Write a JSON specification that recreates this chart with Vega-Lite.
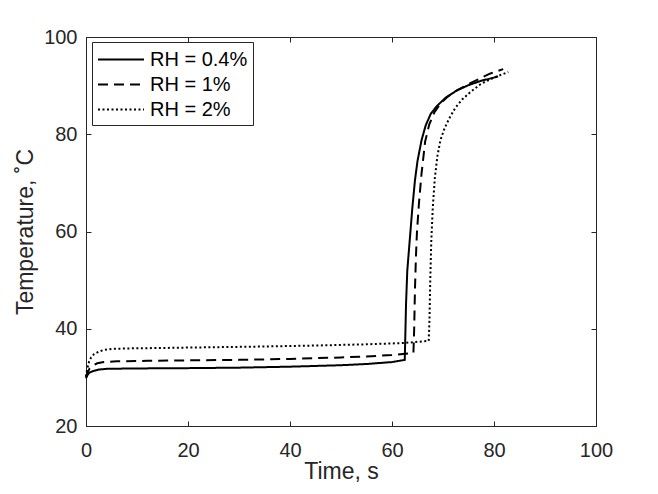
{
  "$schema": "https://vega.github.io/schema/vega-lite/v6.json",
  "width": 510,
  "height": 389,
  "autosize": "none",
  "padding": {"left": 86, "top": 37, "right": 62, "bottom": 68},
  "background": "white",
  "config": {
    "font": "Liberation Sans",
    "view": {"stroke": "#262626", "strokeWidth": 1},
    "axis": {
      "grid": false,
      "domainColor": "#262626",
      "tickColor": "#262626",
      "labelColor": "#262626",
      "titleColor": "#262626",
      "labelFont": "Liberation Sans",
      "titleFont": "Liberation Sans",
      "labelFontSize": 20,
      "titleFontSize": 23,
      "titleFontWeight": "normal",
      "labelFlush": false,
      "tickSize": -5
    }
  },
  "data": {
    "values": [
      {"series": "RH = 0.4%", "t": 0, "T": 29.8},
      {"series": "RH = 0.4%", "t": 0.3, "T": 30.5},
      {"series": "RH = 0.4%", "t": 0.7, "T": 31.0},
      {"series": "RH = 0.4%", "t": 1.4, "T": 31.3},
      {"series": "RH = 0.4%", "t": 2.5, "T": 31.6},
      {"series": "RH = 0.4%", "t": 4, "T": 31.75},
      {"series": "RH = 0.4%", "t": 7, "T": 31.8},
      {"series": "RH = 0.4%", "t": 12, "T": 31.85},
      {"series": "RH = 0.4%", "t": 20, "T": 31.9},
      {"series": "RH = 0.4%", "t": 30, "T": 32.0},
      {"series": "RH = 0.4%", "t": 40, "T": 32.2},
      {"series": "RH = 0.4%", "t": 50, "T": 32.5},
      {"series": "RH = 0.4%", "t": 55, "T": 32.75},
      {"series": "RH = 0.4%", "t": 60, "T": 33.15},
      {"series": "RH = 0.4%", "t": 62.5, "T": 33.6},
      {"series": "RH = 0.4%", "t": 62.6, "T": 38},
      {"series": "RH = 0.4%", "t": 62.75, "T": 45},
      {"series": "RH = 0.4%", "t": 63, "T": 52},
      {"series": "RH = 0.4%", "t": 63.5, "T": 58.5},
      {"series": "RH = 0.4%", "t": 64, "T": 65},
      {"series": "RH = 0.4%", "t": 64.5, "T": 70.5},
      {"series": "RH = 0.4%", "t": 65, "T": 74.5},
      {"series": "RH = 0.4%", "t": 65.8, "T": 78.8},
      {"series": "RH = 0.4%", "t": 66.6, "T": 81.8},
      {"series": "RH = 0.4%", "t": 67.6, "T": 84.2},
      {"series": "RH = 0.4%", "t": 68.8, "T": 85.8},
      {"series": "RH = 0.4%", "t": 70.5, "T": 87.5},
      {"series": "RH = 0.4%", "t": 72.7, "T": 89},
      {"series": "RH = 0.4%", "t": 75, "T": 90.1},
      {"series": "RH = 0.4%", "t": 77.5, "T": 91.0},
      {"series": "RH = 0.4%", "t": 79.8, "T": 91.6},
      {"series": "RH = 0.4%", "t": 80.8, "T": 91.9},
      {"series": "RH = 1%", "t": 0, "T": 30.0},
      {"series": "RH = 1%", "t": 0.3, "T": 31.0},
      {"series": "RH = 1%", "t": 0.7, "T": 31.8},
      {"series": "RH = 1%", "t": 1.3, "T": 32.4},
      {"series": "RH = 1%", "t": 2.2, "T": 32.9},
      {"series": "RH = 1%", "t": 3.5, "T": 33.15},
      {"series": "RH = 1%", "t": 6, "T": 33.3},
      {"series": "RH = 1%", "t": 12, "T": 33.4},
      {"series": "RH = 1%", "t": 20, "T": 33.5},
      {"series": "RH = 1%", "t": 30, "T": 33.6},
      {"series": "RH = 1%", "t": 40, "T": 33.8},
      {"series": "RH = 1%", "t": 50, "T": 34.1},
      {"series": "RH = 1%", "t": 56, "T": 34.35},
      {"series": "RH = 1%", "t": 60, "T": 34.6},
      {"series": "RH = 1%", "t": 64.2, "T": 35.0},
      {"series": "RH = 1%", "t": 64.35, "T": 40},
      {"series": "RH = 1%", "t": 64.5, "T": 48},
      {"series": "RH = 1%", "t": 64.7, "T": 55},
      {"series": "RH = 1%", "t": 64.9, "T": 60},
      {"series": "RH = 1%", "t": 65.3, "T": 66},
      {"series": "RH = 1%", "t": 65.8, "T": 72},
      {"series": "RH = 1%", "t": 66.5, "T": 78.5},
      {"series": "RH = 1%", "t": 67.3, "T": 82},
      {"series": "RH = 1%", "t": 68.3, "T": 84.5},
      {"series": "RH = 1%", "t": 69.5, "T": 86.3},
      {"series": "RH = 1%", "t": 71, "T": 87.8},
      {"series": "RH = 1%", "t": 73, "T": 89.2},
      {"series": "RH = 1%", "t": 75, "T": 90.3},
      {"series": "RH = 1%", "t": 77.3, "T": 91.5},
      {"series": "RH = 1%", "t": 79.3, "T": 92.5},
      {"series": "RH = 1%", "t": 81.8, "T": 93.4},
      {"series": "RH = 2%", "t": 0, "T": 30.2},
      {"series": "RH = 2%", "t": 0.25, "T": 31.8},
      {"series": "RH = 2%", "t": 0.6, "T": 33.2},
      {"series": "RH = 2%", "t": 1.0, "T": 34.1},
      {"series": "RH = 2%", "t": 1.6, "T": 34.8},
      {"series": "RH = 2%", "t": 2.5, "T": 35.3},
      {"series": "RH = 2%", "t": 3.5, "T": 35.65},
      {"series": "RH = 2%", "t": 5, "T": 35.85},
      {"series": "RH = 2%", "t": 8, "T": 35.95},
      {"series": "RH = 2%", "t": 15, "T": 36.05},
      {"series": "RH = 2%", "t": 25, "T": 36.2},
      {"series": "RH = 2%", "t": 35, "T": 36.35},
      {"series": "RH = 2%", "t": 45, "T": 36.55},
      {"series": "RH = 2%", "t": 55, "T": 36.8},
      {"series": "RH = 2%", "t": 62, "T": 37.05},
      {"series": "RH = 2%", "t": 67.2, "T": 37.5},
      {"series": "RH = 2%", "t": 67.35, "T": 42},
      {"series": "RH = 2%", "t": 67.5, "T": 50},
      {"series": "RH = 2%", "t": 67.7, "T": 58},
      {"series": "RH = 2%", "t": 68, "T": 65},
      {"series": "RH = 2%", "t": 68.4, "T": 71},
      {"series": "RH = 2%", "t": 68.9, "T": 75.5},
      {"series": "RH = 2%", "t": 69.5, "T": 78.8},
      {"series": "RH = 2%", "t": 70.3, "T": 81.2},
      {"series": "RH = 2%", "t": 71.2, "T": 83.2},
      {"series": "RH = 2%", "t": 72.4, "T": 85.4},
      {"series": "RH = 2%", "t": 73.8, "T": 87.2},
      {"series": "RH = 2%", "t": 75.5, "T": 88.8},
      {"series": "RH = 2%", "t": 77.5, "T": 90.4},
      {"series": "RH = 2%", "t": 79.5, "T": 91.4},
      {"series": "RH = 2%", "t": 81.3, "T": 92.2},
      {"series": "RH = 2%", "t": 82.8, "T": 92.8}
    ]
  },
  "layer": [
    {
      "mark": {"type": "line", "color": "black", "strokeWidth": 2, "strokeCap": "butt"},
      "encoding": {
        "x": {
          "field": "t",
          "type": "quantitative",
          "scale": {"domain": [0, 100]},
          "axis": {"orient": "bottom", "values": [0, 20, 40, 60, 80, 100], "title": "Time, s", "labelPadding": 19, "titlePadding": 0}
        },
        "y": {
          "field": "T",
          "type": "quantitative",
          "scale": {"domain": [20, 100]},
          "axis": {"orient": "left", "values": [20, 40, 60, 80, 100], "title": "Temperature, ˚C", "labelPadding": 14, "titlePadding": 6}
        },
        "strokeDash": {
          "field": "series",
          "type": "nominal",
          "scale": {"domain": ["RH = 0.4%", "RH = 1%", "RH = 2%"], "range": [[1, 0], [10, 6], [2, 2.5]]},
          "legend": {
            "orient": "none",
            "legendX": 6,
            "legendY": 5,
            "title": null,
            "strokeColor": "#262626",
            "fillColor": "white",
            "padding": 5,
            "symbolType": "M-1,0H3",
            "symbolSize": 529,
            "symbolStrokeWidth": 2,
            "symbolStrokeColor": "black",
            "symbolFillColor": "transparent",
            "labelFont": "Liberation Sans",
            "labelFontSize": 20,
            "labelColor": "black",
            "labelOffset": 28,
            "rowPadding": 2
          }
        }
      }
    },
    {
      "mark": {"type": "point", "opacity": 0},
      "encoding": {
        "x": {
          "field": "t",
          "type": "quantitative",
          "axis": {"orient": "top", "values": [0, 20, 40, 60, 80, 100], "labels": false, "title": null}
        },
        "y": {
          "field": "T",
          "type": "quantitative",
          "axis": {"orient": "right", "values": [20, 40, 60, 80, 100], "labels": false, "title": null}
        }
      }
    }
  ],
  "resolve": {"axis": {"x": "independent", "y": "independent"}}
}
